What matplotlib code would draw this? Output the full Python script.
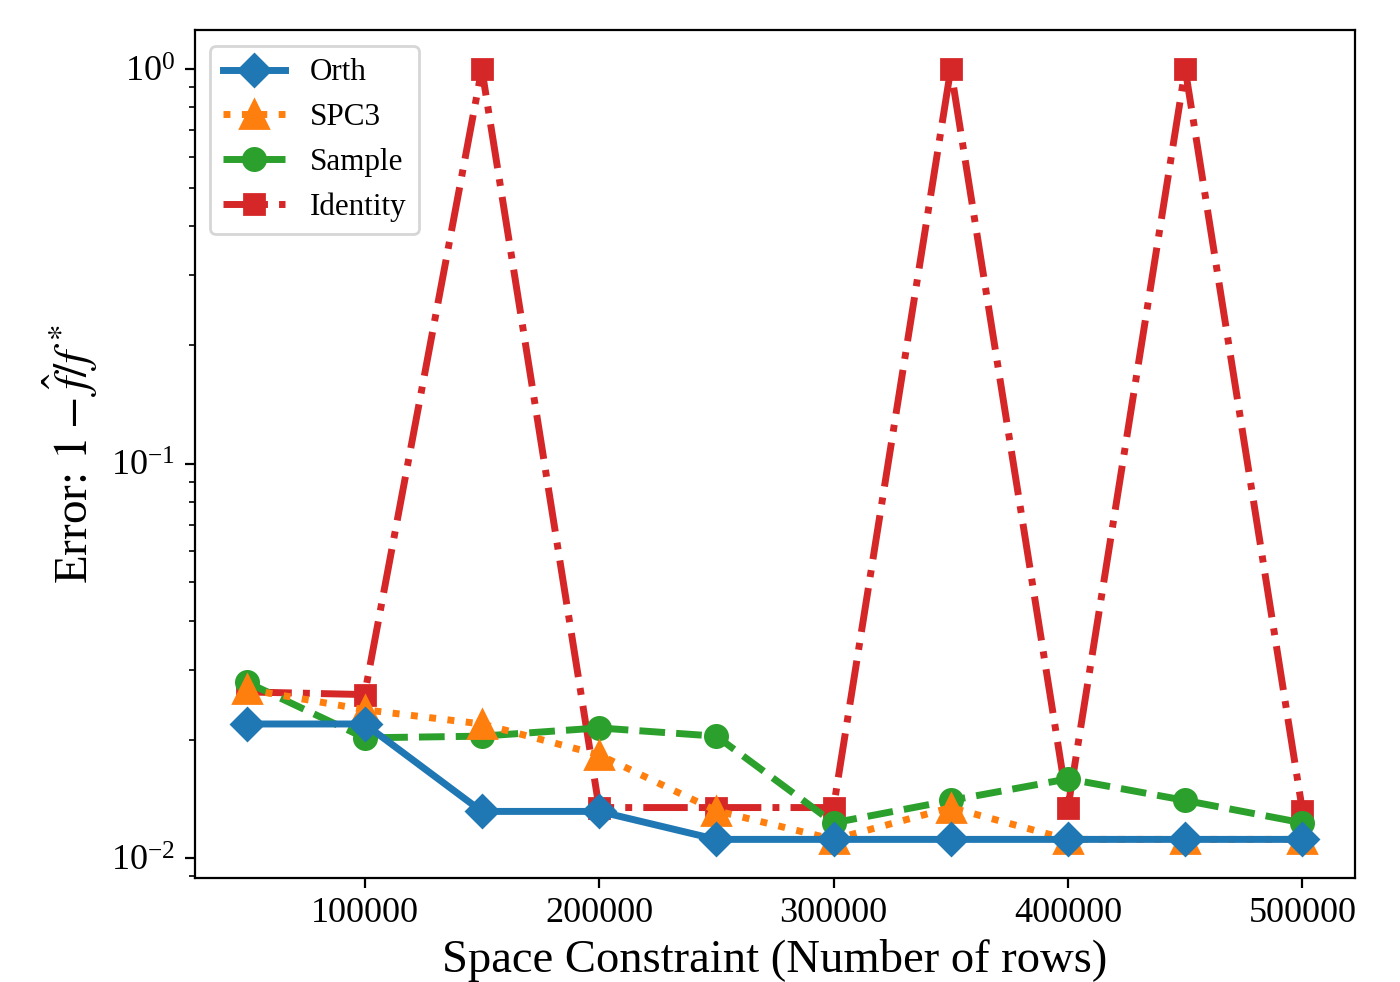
import matplotlib
matplotlib.use("Agg")
import matplotlib.pyplot as plt

plt.rcParams['font.family'] = ['Liberation Serif', 'DejaVu Serif']
plt.rcParams['mathtext.fontset'] = 'stix'

space = [50000, 100000, 150000, 200000, 250000, 300000, 350000, 400000, 450000, 500000]

orth = [0.0219, 0.0219, 0.01315, 0.01315, 0.01117, 0.01117, 0.01117, 0.01117, 0.01117, 0.01117]
spc3 = [0.0268, 0.0238, 0.0219, 0.0183, 0.0132, 0.01117, 0.01345, 0.01117, 0.01117, 0.01117]
sample = [0.0279, 0.0202, 0.0204, 0.0214, 0.0204, 0.0123, 0.01402, 0.0159, 0.01402, 0.0123]
identity = [0.0264, 0.0260, 1.0, 0.01345, 0.01345, 0.01345, 1.0, 0.01345, 1.0, 0.0132]

fig = plt.figure(figsize=(7, 4.91), dpi=200)
ax = fig.add_axes([0.139, 0.106, 0.829, 0.863])

ax.plot(space, orth, '-', marker='D', color='#1f77b4', lw=2.5, ms=8, label='Orth', zorder=5)
ax.plot(space, spc3, ':', marker='^', color='#ff7f0e', lw=2.5, ms=10, label='SPC3', zorder=4)
ax.plot(space, sample, '--', marker='o', color='#2ca02c', lw=2.5, ms=8, label='Sample', zorder=3)
ax.plot(space, identity, '-.', marker='s', color='#d62728', lw=2.5, ms=7.5, label='Identity', zorder=2)

ax.set_yscale('log')
ax.set_xlabel('Space Constraint (Number of rows)', fontsize=16.8, labelpad=3)
ax.set_ylabel(r'Error: $1-\hat{f}/f^*$', fontsize=17)
ax.tick_params(labelsize=13)
ax.set_xticks([100000, 200000, 300000, 400000, 500000])
ax.legend(loc='upper left', fontsize=11.2)

fig.savefig('out.png', dpi=200)
